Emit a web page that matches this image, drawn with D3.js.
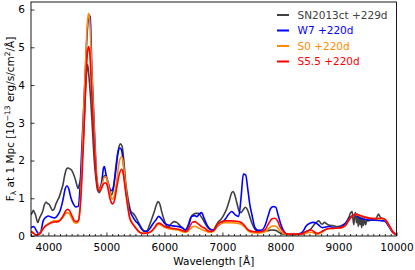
<!DOCTYPE html>
<html>
<head>
<meta charset="utf-8">
<script src="https://cdn.jsdelivr.net/npm/d3@7"></script>
<style>
  html, body { margin: 0; padding: 0; background: #fff; }
  svg { display: block; font-family: "DejaVu Sans", sans-serif; }
</style>
</head>
<body>
<svg id="chart" width="415" height="270"></svg>
<script>
// tick labels
var xTicks = [4000, 5000, 6000, 7000, 8000, 9000, 10000];
var yTicks = [0, 1, 2, 3, 4, 5, 6];

var seriesNames = ["SN2013ct +229d", "W7 +220d", "S0 +220d", "S5.5 +220d"];
var seriesColors = ["#404040", "#0000ff", "#ff8c00", "#ff0000"];

// observed spectrum (wavelength in A, flux in 1e-13 erg/s/cm2/A)
var obsWave = [3700,3720,3740,3760,3780,3800,3820,3840,3870,3900,3930,3960,3985,4010,4040,4070,4100,4130,4160,4190,4220,4250,4280,4310,4340,4370,4400,4430,4460,4490,4510,4530,4560,4590,4620,4645,4676,4700,4730,4760,4790,4820,4850,4880,4910,4940,4970,5000,5030,5060,5090,5120,5160,5200,5240,5270,5300,5330,5360,5390,5420,5460,5500,5540,5580,5620,5660,5700,5740,5780,5820,5860,5890,5920,5950,5990,6040,6080,6120,6170,6210,6260,6310,6360,6400,6450,6500,6550,6590,6630,6670,6720,6760,6810,6850,6890,6930,6980,7030,7080,7120,7160,7185,7210,7250,7290,7320,7360,7395,7430,7470,7510,7560,7620,7700,7780,7850,7920,7980,8050,8150,8250,8350,8420,8470,8530,8580,8620,8660,8700,8720,8760,8790,8830,8870,8920,8970,9020,9080,9130,9180,9210,9235,9250,9265,9280,9295,9310,9325,9340,9355,9370,9385,9400,9415,9430,9450,9470,9490,9510,9550,9600,9650,9690,9720,9760,9810,9840,9880,9920,9960,10000];
var obsFlux = [0.56,0.62,0.68,0.62,0.55,0.42,0.36,0.45,0.55,0.65,0.82,0.90,0.86,0.84,0.76,0.68,0.72,0.85,0.95,1.05,1.20,1.35,1.60,1.77,1.80,1.78,1.74,1.65,1.52,1.35,1.26,1.35,1.57,2.2,3.1,4.0,4.54,4.2,3.6,2.8,2.0,1.5,1.2,1.15,1.30,1.50,1.60,1.55,1.42,1.20,1.09,1.25,1.80,2.25,2.44,2.38,2.0,1.45,1.1,0.85,0.66,0.60,0.52,0.40,0.28,0.18,0.13,0.14,0.28,0.45,0.62,0.82,0.91,0.85,0.66,0.45,0.26,0.25,0.33,0.38,0.36,0.29,0.22,0.16,0.25,0.48,0.58,0.60,0.60,0.52,0.42,0.28,0.20,0.16,0.17,0.28,0.38,0.45,0.58,0.75,0.95,1.15,1.18,1.10,0.87,0.65,0.62,0.70,0.76,0.70,0.52,0.33,0.18,0.12,0.12,0.14,0.16,0.15,0.09,0.05,0.04,0.04,0.06,0.10,0.13,0.20,0.30,0.36,0.40,0.33,0.31,0.36,0.33,0.29,0.28,0.27,0.25,0.26,0.30,0.35,0.50,0.62,0.65,0.45,0.30,0.55,0.62,0.35,0.58,0.25,0.55,0.30,0.50,0.22,0.48,0.28,0.45,0.30,0.43,0.40,0.42,0.44,0.47,0.58,0.50,0.46,0.42,0.35,0.25,0.14,0.08,0.05];

// W7 model
var w7Wave = [3700,3750,3790,3830,3870,3910,3960,4000,4050,4110,4160,4200,4250,4290,4320,4350,4390,4430,4470,4510,4546,4575,4605,4635,4665,4700,4720,4750,4780,4810,4835,4860,4890,4920,4950,4965,4990,5020,5060,5090,5120,5160,5200,5230,5260,5290,5320,5360,5400,5450,5500,5550,5600,5650,5700,5750,5800,5850,5900,5950,6000,6050,6100,6200,6300,6360,6420,6470,6520,6560,6600,6640,6680,6730,6790,6850,6900,6950,7000,7050,7100,7160,7220,7280,7320,7360,7400,7440,7470,7510,7560,7620,7680,7740,7790,7830,7880,7920,7960,8000,8050,8090,8150,8250,8350,8400,8440,8500,8560,8620,8680,8720,8780,8840,8900,8980,9050,9100,9150,9210,9290,9380,9500,9600,9700,9790,9840,9880,9930,9970,10000];
var w7Flux = [0.22,0.25,0.15,0.06,0.12,0.40,0.50,0.53,0.50,0.48,0.55,0.66,0.95,1.25,1.33,1.25,1.00,0.85,0.77,0.78,1.30,2.3,3.3,4.3,5.3,5.86,5.8,4.4,3.3,2.2,1.5,1.3,1.27,1.45,1.80,1.84,1.65,1.45,1.25,1.20,1.30,1.70,2.20,2.33,2.28,1.95,1.40,0.95,0.68,0.52,0.40,0.32,0.20,0.12,0.12,0.20,0.32,0.42,0.52,0.45,0.34,0.30,0.28,0.26,0.22,0.16,0.30,0.52,0.54,0.51,0.58,0.62,0.48,0.30,0.18,0.16,0.24,0.30,0.36,0.45,0.56,0.65,0.56,0.52,1.0,1.64,1.62,1.2,0.85,0.55,0.22,0.15,0.16,0.30,0.55,0.73,0.78,0.76,0.55,0.34,0.15,0.07,0.04,0.04,0.07,0.15,0.26,0.33,0.36,0.34,0.26,0.22,0.24,0.25,0.23,0.22,0.25,0.30,0.40,0.51,0.56,0.47,0.43,0.42,0.41,0.40,0.32,0.22,0.10,0.05,0.04];

// S0 and S5.5 models share one wavelength grid
var subWave = [3700,3740,3780,3820,3860,3900,3940,3990,4050,4100,4170,4220,4260,4300,4330,4370,4410,4450,4490,4520,4550,4580,4610,4640,4670,4690,4710,4740,4770,4800,4830,4860,4890,4920,4960,4990,5020,5060,5090,5110,5140,5180,5220,5260,5290,5320,5360,5400,5450,5500,5550,5600,5650,5700,5760,5820,5880,5910,5960,6000,6080,6160,6240,6320,6370,6420,6480,6530,6580,6640,6700,6760,6810,6860,6920,6980,7050,7150,7250,7330,7380,7420,7470,7520,7600,7680,7740,7800,7850,7900,7950,8000,8050,8100,8200,8350,8420,8470,8530,8600,8640,8700,8760,8830,8900,9000,9080,9130,9180,9230,9290,9360,9450,9550,9650,9750,9810,9860,9910,9960,10000];
var s0Flux = [0.12,0.08,0.03,0.04,0.08,0.18,0.26,0.32,0.37,0.40,0.41,0.45,0.52,0.60,0.62,0.57,0.45,0.35,0.34,0.40,0.9,2.0,3.4,4.6,5.6,5.9,5.75,4.7,3.5,2.4,1.6,1.3,1.22,1.35,1.55,1.57,1.45,1.15,1.0,0.98,1.1,1.5,1.95,2.1,1.95,1.5,0.95,0.52,0.34,0.23,0.13,0.08,0.07,0.08,0.11,0.19,0.30,0.31,0.27,0.23,0.19,0.17,0.15,0.11,0.10,0.15,0.24,0.26,0.22,0.17,0.14,0.10,0.10,0.14,0.28,0.33,0.35,0.35,0.34,0.30,0.24,0.17,0.11,0.09,0.08,0.09,0.12,0.20,0.26,0.27,0.22,0.12,0.07,0.04,0.04,0.04,0.06,0.09,0.10,0.06,0.05,0.09,0.15,0.19,0.20,0.21,0.24,0.30,0.42,0.52,0.57,0.54,0.50,0.47,0.46,0.46,0.42,0.31,0.17,0.07,0.04];
var s55Flux = [0.12,0.08,0.03,0.04,0.07,0.17,0.25,0.30,0.35,0.37,0.38,0.45,0.55,0.67,0.71,0.66,0.52,0.40,0.38,0.42,0.8,1.6,2.7,3.9,4.8,5.02,4.9,4.0,3.0,2.1,1.5,1.22,1.20,1.28,1.40,1.41,1.30,1.00,0.87,0.85,0.95,1.30,1.62,1.77,1.65,1.30,0.85,0.48,0.32,0.22,0.13,0.08,0.07,0.08,0.11,0.20,0.33,0.34,0.30,0.26,0.22,0.20,0.18,0.14,0.12,0.20,0.36,0.38,0.32,0.25,0.20,0.13,0.12,0.16,0.32,0.38,0.40,0.40,0.39,0.35,0.28,0.20,0.14,0.12,0.11,0.12,0.18,0.34,0.45,0.47,0.40,0.22,0.12,0.06,0.05,0.05,0.10,0.14,0.16,0.09,0.07,0.11,0.16,0.20,0.20,0.21,0.24,0.30,0.42,0.52,0.58,0.55,0.50,0.47,0.46,0.47,0.43,0.32,0.18,0.07,0.04];

var waves = [obsWave, w7Wave, subWave, subWave];
var fluxes = [obsFlux, w7Flux, s0Flux, s55Flux];

var margin = {top: 2, right: 18.5, bottom: 34, left: 31},
    width = 415 - margin.left - margin.right,
    height = 270 - margin.top - margin.bottom;

var svg = d3.select("#chart")
  .append("g")
    .attr("transform", "translate(" + margin.left + "," + margin.top + ")");

var x = d3.scaleLinear().domain([3700, 10000]).range([0, width]);
var y = d3.scaleLinear().domain([0, 6.2]).range([height, 0]);

svg.append("clipPath").attr("id", "clip")
  .append("rect").attr("width", width).attr("height", height);

// spectra
var line = d3.line()
    .x(function(d) { return x(d[0]); })
    .y(function(d) { return y(d[1]); })
    .curve(d3.curveMonotoneX);

var plot = svg.append("g").attr("clip-path", "url(#clip)");
fluxes.forEach(function(f, i) {
  var pts = waves[i].map(function(w, j) { return [w, f[j]]; });
  plot.append("path")
      .datum(pts)
      .attr("fill", "none")
      .attr("stroke", seriesColors[i])
      .attr("stroke-width", 1.6)
      .attr("stroke-linejoin", "round")
      .attr("d", line);
});

// axes, ticks pointing inward
var xMinor = d3.range(3700, 10001, 100).filter(function(v) { return v % 1000 !== 0; });
svg.append("g")
    .attr("transform", "translate(0," + height + ")")
    .call(d3.axisBottom(x).tickValues(xMinor).tickSize(-2).tickFormat(""))
    .call(function(g) { g.select(".domain").remove(); });
var xAxis = svg.append("g")
    .attr("transform", "translate(0," + height + ")")
    .call(d3.axisBottom(x).tickValues(xTicks).tickSize(-3.5).tickPadding(8).tickFormat(d3.format("d")));
var yAxis = svg.append("g")
    .call(d3.axisLeft(y).tickValues(yTicks).tickSize(-3.5).tickPadding(6).tickFormat(d3.format("d")));

[xAxis, yAxis].forEach(function(g) {
  g.select(".domain").remove();
  g.selectAll("text").attr("font-size", "10.5px").attr("fill", "#000")
    .attr("font-family", "DejaVu Sans, sans-serif");
});
svg.selectAll(".tick line").attr("stroke", "#000").attr("stroke-width", 0.8);

// frame
svg.append("rect")
    .attr("width", width).attr("height", height)
    .attr("fill", "none").attr("stroke", "#000").attr("stroke-width", 0.9);

// axis labels
svg.append("text")
    .attr("x", width / 2).attr("y", height + 29)
    .attr("text-anchor", "middle").attr("font-size", "10.5px")
    .text("Wavelength [Å]");

var yl = svg.append("text")
    .attr("transform", "translate(" + (-17.5) + "," + (height / 2) + ") rotate(-90)")
    .attr("text-anchor", "middle").attr("font-size", "10.5px");
yl.append("tspan").text("F");
yl.append("tspan").attr("font-size", "7.5px").attr("dy", 2.5).text("λ");
yl.append("tspan").attr("dy", -2.5).text(" at 1 Mpc [10");
yl.append("tspan").attr("font-size", "7.5px").attr("dy", -4).text("−13");
yl.append("tspan").attr("dy", 4).text(" erg/s/cm");
yl.append("tspan").attr("font-size", "7.5px").attr("dy", -4).text("2");
yl.append("tspan").attr("dy", 4).text("/Å]");

// legend
var legend = svg.append("g").attr("transform", "translate(246,13)");
seriesNames.forEach(function(name, i) {
  var row = legend.append("g").attr("transform", "translate(0," + (i * 15.5) + ")");
  row.append("line")
      .attr("x1", 0).attr("x2", 12)
      .attr("stroke", seriesColors[i]).attr("stroke-width", 2);
  row.append("text")
      .attr("x", 20.5).attr("dy", "0.35em")
      .attr("font-size", "10.5px").attr("fill", seriesColors[i])
      .text(name);
});
</script>
</body>
</html>
